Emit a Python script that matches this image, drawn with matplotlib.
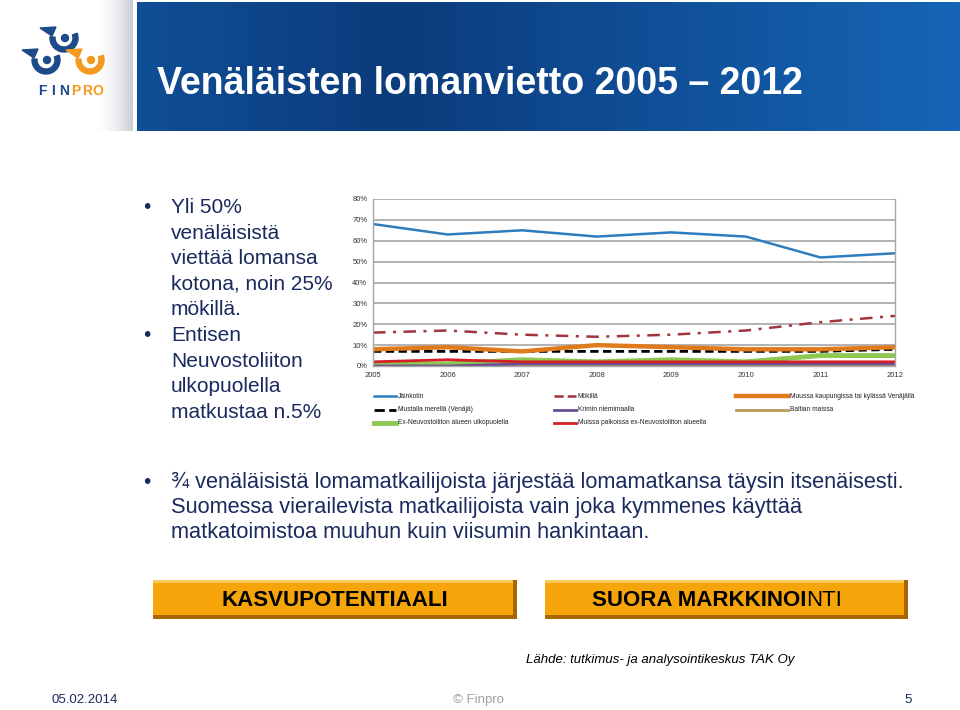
import numpy as np
import matplotlib
matplotlib.use("Agg")
import matplotlib.pyplot as plt
from matplotlib.colors import LinearSegmentedColormap
from matplotlib.patches import Rectangle, Polygon, Circle, Wedge
from matplotlib.lines import Line2D

# ---- data -------------------------------------------------------------
years = [2005, 2006, 2007, 2008, 2009, 2010, 2011, 2012]
kotona       = [68, 63, 65, 62, 64, 62, 52, 54]
mokilla      = [16, 17, 15, 14, 15, 17, 21, 24]
muu_kaupunki = [8, 9, 7, 10, 9, 8, 8, 9]
musta_meri   = [7, 7, 7, 7, 7, 7, 7, 8]
krim         = [0, 0, 1, 1, 1, 1, 1, 1]
baltia       = [0, 0, 0, 0, 0, 0, 0.5, 0.5]
ex_ulko      = [1, 1, 3, 2, 3, 2, 5, 5]
muut_ex      = [2, 3, 2, 2, 2, 2, 2, 2]
yticks = [0, 10, 20, 30, 40, 50, 60, 70, 80]

TITLE = "Venäläisten lomanvietto 2005 – 2012"
bullet1 = ["Yli 50%", "venäläisistä", "viettää lomansa", "kotona, noin 25%", "mökillä."]
bullet2 = ["Entisen", "Neuvostoliiton", "ulkopuolella", "matkustaa n.5%"]
bullet3 = ["¾ venäläisistä lomamatkailijoista järjestää lomamatkansa täysin itsenäisesti.",
           "Suomessa vierailevista matkailijoista vain joka kymmenes käyttää",
           "matkatoimistoa muuhun kuin viisumin hankintaan."]

NAVY = "#1B2A5E"
W, H = 960, 710
plt.rcParams["font.family"] = ["Liberation Sans", "DejaVu Sans"]


def fx(x):
    return x / W


def fy(y):
    return 1 - y / H


fig = plt.figure(figsize=(9.6, 7.1), dpi=100)
fig.patch.set_facecolor("white")

# ---- header -----------------------------------------------------------
hdr = fig.add_axes([fx(137), fy(131), fx(960 - 137), (131 - 2) / H])
hx = np.concatenate([np.linspace(0.55, 0.2, 80), np.linspace(0.2, 1.0, 176)])
hdr.imshow(np.tile(hx, (10, 1)), aspect="auto", extent=[0, 1, 0, 1],
           cmap=LinearSegmentedColormap.from_list("b", ["#0B3C7C", "#1665B6"]))
hdr.axis("off")
fig.text(fx(157), fy(84), TITLE, color="white", fontsize=27, fontweight="bold",
         va="center", ha="left")

# logo panel
lg = fig.add_axes([0, fy(131), fx(133), 131 / H])
lg.imshow(np.tile(np.concatenate([np.zeros(90), np.linspace(0, 1, 40) ** 2]), (10, 1)),
          aspect="auto", extent=[0, 133, 131, 0],
          cmap=LinearSegmentedColormap.from_list("g", ["#FFFFFF", "#C9CCD4"]))
lg.set_xlim(0, 133); lg.set_ylim(131, 0); lg.axis("off")
for cx, cy, col in [(64, 38, "#1C4A8A"), (46, 60, "#1C4A8A"), (90, 60, "#F39A1E")]:
    # y axis is inverted here, so 0..180 degrees is the lower half
    lg.add_patch(Wedge((cx, cy), 14, -20, 185, width=5, color=col))
    lg.add_patch(Polygon([[cx - 24, cy - 10], [cx - 8, cy - 11], [cx - 12, cy - 2]], color=col))
    lg.add_patch(Circle((cx + 1, cy), 3.5, color=col))
for i, ch in enumerate("FINPRO"):
    lg.text(42 + i * 11.2, 91, ch, color="#1C4A8A" if i < 3 else "#F39A1E",
            fontsize=10, fontweight="bold", ha="center", va="center")

# ---- bullets ----------------------------------------------------------
y0 = 213
for i, line in enumerate(bullet1 + bullet2):
    yb = y0 + i * 25.6
    fig.text(fx(171), fy(yb), line, color=NAVY, fontsize=15, va="baseline")
for yb in (y0, y0 + 5 * 25.6, 488):
    fig.text(fx(143), fy(yb), "•", color=NAVY, fontsize=15, va="baseline")
for i, line in enumerate(bullet3):
    fig.text(fx(171), fy(488 + i * 25), line, color=NAVY, fontsize=15.7, va="baseline")

# ---- chart ------------------------------------------------------------
ax = fig.add_axes([fx(373), fy(366), fx(895 - 373), (366 - 199) / H])
series = [
    (ex_ulko, "Ex-Neuvostoliiton alueen ulkopuolella", "#8DC852", 3.5, "-"),
    (baltia, "Baltian maissa", "#B59A5C", 2, "-"),
    (krim, "Krimin niemimaalla", "#6A4E95", 2, "-"),
    (muut_ex, "Muissa paikoissa ex-Neuvostoliiton alueella", "#D32027", 2, "-"),
    (musta_meri, "Mustalla merellä (Venäjä)", "black", 2, (0, (3, 1.6))),
    (muu_kaupunki, "Muussa kaupungissa tai kylässä Venäjällä", "#E07B1C", 3.2, "-"),
    (mokilla, "Mökillä", "#A1343C", 1.8, (0, (5, 3, 1.2, 3))),
    (kotona, "Jäinkotin", "#2F7DBD", 1.8, "-"),
]
handles = {}
for vals, lab, col, lw, ls in series:
    ln, = ax.plot(years, vals, color=col, lw=lw, ls=ls, solid_capstyle="butt")
    handles[lab] = ln
ax.set_xlim(2005, 2012)
ax.set_ylim(0, 80)
ax.set_yticks(yticks)
ax.set_yticklabels([f"{v}%" for v in yticks])
ax.set_xticks(years)
ax.tick_params(length=0, labelsize=5.5, pad=4, colors="#333333")
ax.grid(axis="y", color="#A6A6A6", lw=1.2)
ax.set_axisbelow(True)
ax.spines["top"].set_visible(False)
for s in ["left", "right", "bottom"]:
    ax.spines[s].set_color("#A6A6A6")
    ax.spines[s].set_linewidth(1.0)

# legend, row-wise like the original
legend_rows = [
    ["Jäinkotin", "Mökillä", "Muussa kaupungissa tai kylässä Venäjällä"],
    ["Mustalla merellä (Venäjä)", "Krimin niemimaalla", "Baltian maissa"],
    ["Ex-Neuvostoliiton alueen ulkopuolella", "Muissa paikoissa ex-Neuvostoliiton alueella"],
]
col_x = [(374, 396), (554, 576), (736, 788)]
for r, row in enumerate(legend_rows):
    yl = 396 + r * 13.5
    for c, lab in enumerate(row):
        h = handles[lab]
        x1, x2 = col_x[c]
        fig.add_artist(Line2D([fx(x1), fx(x2)], [fy(yl), fy(yl)], color=h.get_color(),
                              lw=h.get_linewidth(), ls=h.get_linestyle()))
        fig.text(fx(x2 + 2), fy(yl), lab, fontsize=4.8, va="center", color="#222222")

# ---- orange boxes -----------------------------------------------------
for x0, x1, words in [(153, 517, [("KASVUPOTENTIAALI", "bold")]),
                      (545, 908, [("SUORA MARKKINOI", "bold"), ("NTI", "normal")])]:
    fig.add_artist(Rectangle((fx(x0), fy(619)), fx(x1 - x0), (619 - 580) / H,
                             facecolor="#A86600", edgecolor="none"))
    fig.add_artist(Rectangle((fx(x0), fy(615)), fx(x1 - x0 - 4), (615 - 580) / H,
                             facecolor="#F5A40A", edgecolor="none"))
    fig.add_artist(Rectangle((fx(x0), fy(583)), fx(x1 - x0 - 4), 3 / H,
                             facecolor="#FCC85A", edgecolor="none"))
    xc = (x0 + x1) / 2
    if len(words) == 1:
        fig.text(fx(xc), fy(601), words[0][0], fontsize=16, fontweight="bold",
                 ha="center", va="center")
    else:
        t1 = fig.text(fx(592), fy(601), words[0][0], fontsize=16, fontweight="bold",
                      ha="left", va="center")
        fig.canvas.draw()
        bb = t1.get_window_extent()
        fig.text(bb.x1 / W, fy(601), words[1][0], fontsize=16, ha="left", va="center")

# ---- source & footer --------------------------------------------------
fig.text(fx(526), fy(660), "Lähde: tutkimus- ja analysointikeskus TAK Oy", fontsize=9.5,
         style="italic", va="center")
fig.text(fx(52), fy(700), "05.02.2014", fontsize=9.5, color=NAVY, va="center")
fig.text(fx(478), fy(700), "© Finpro", fontsize=9.5, color="#A0A0A0", va="center", ha="center")
fig.text(fx(908), fy(700), "5", fontsize=9.5, color=NAVY, va="center", ha="center")

fig.savefig("out.png", dpi=100)
